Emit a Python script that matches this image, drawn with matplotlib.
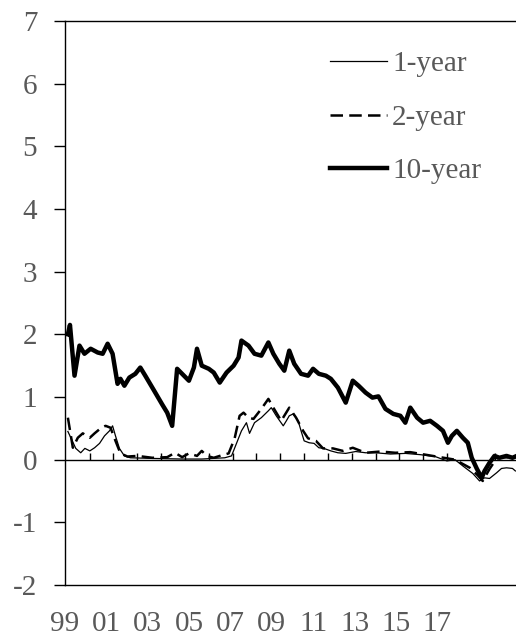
import numpy as np
import matplotlib
matplotlib.use("Agg")
import matplotlib.pyplot as plt

plt.rcParams['font.family'] = ['Liberation Serif', 'DejaVu Serif']
plt.rcParams['axes.unicode_minus'] = False

# decimal years and values
t_1y = [1999.14, 1999.52, 1999.76, 1999.96, 2000.20, 2000.43, 2000.67, 2000.91,
        2001.15, 2001.30, 2001.44, 2001.63, 2001.87, 2002.16, 2003.22, 2004.66,
        2005.61, 2006.72, 2007.05, 2007.29, 2007.53, 2007.77, 2007.92, 2008.16,
        2008.49, 2008.83, 2008.97, 2009.21, 2009.55, 2009.70, 2009.84, 2010.03,
        2010.27, 2010.41, 2010.56, 2010.80, 2011.04, 2011.27, 2011.51, 2011.85,
        2012.19, 2012.57, 2013.05, 2013.53, 2014.01, 2014.73, 2015.45, 2016.17,
        2016.89, 2017.46, 2017.85, 2018.23, 2018.71, 2019.04, 2019.28, 2019.52,
        2019.86, 2020.10, 2020.34, 2020.63, 2020.77]
v_1y = [0.45, 0.18, 0.11, 0.18, 0.14, 0.19, 0.26, 0.38,
        0.46, 0.54, 0.38, 0.18, 0.06, 0.03, 0.02, 0.01,
        0.01, 0.03, 0.06, 0.26, 0.46, 0.59, 0.42, 0.59,
        0.67, 0.78, 0.83, 0.70, 0.54, 0.62, 0.70, 0.73,
        0.62, 0.46, 0.30, 0.27, 0.26, 0.19, 0.18, 0.14,
        0.11, 0.10, 0.13, 0.11, 0.11, 0.09, 0.10, 0.08,
        0.05, -0.02, 0.00, -0.10, -0.22, -0.34, -0.29, -0.30,
        -0.21, -0.14, -0.13, -0.14, -0.18]

t_2y = [1999.14, 1999.38, 1999.62, 1999.86, 2000.20, 2000.43, 2000.72, 2000.96,
        2001.20, 2001.44, 2001.68, 2002.02, 2002.50, 2003.22, 2003.94, 2004.32,
        2004.66, 2004.99, 2005.38, 2005.61, 2005.85, 2006.19, 2006.48, 2006.91,
        2007.20, 2007.44, 2007.63, 2007.87, 2008.11, 2008.49, 2008.83, 2009.07,
        2009.45, 2009.84, 2010.17, 2010.51, 2010.75, 2011.13, 2011.47, 2011.95,
        2012.43, 2012.91, 2013.53, 2014.25, 2014.97, 2015.69, 2016.41, 2017.13,
        2017.85, 2018.57, 2018.95, 2019.19, 2019.52, 2019.86, 2020.24, 2020.77]
v_2y = [0.67, 0.19, 0.35, 0.42, 0.35, 0.42, 0.50, 0.54,
        0.51, 0.30, 0.10, 0.05, 0.06, 0.03, 0.04, 0.11,
        0.04, 0.10, 0.06, 0.14, 0.06, 0.03, 0.06, 0.10,
        0.34, 0.70, 0.75, 0.67, 0.65, 0.81, 0.97, 0.83,
        0.62, 0.83, 0.67, 0.46, 0.34, 0.30, 0.18, 0.18,
        0.14, 0.19, 0.11, 0.13, 0.11, 0.12, 0.08, 0.04,
        0.00, -0.13, -0.25, -0.34, -0.15, 0.02, 0.04, 0.03]

t_10y = [1999.14, 1999.24, 1999.46, 1999.70, 1999.94, 2000.24, 2000.58, 2000.82,
         2001.06, 2001.30, 2001.54, 2001.68, 2001.87, 2002.11, 2002.40, 2002.64,
         2002.88, 2003.31, 2003.70, 2003.94, 2004.18, 2004.42, 2004.75, 2004.99,
         2005.23, 2005.38, 2005.61, 2005.95, 2006.19, 2006.48, 2006.81, 2007.15,
         2007.39, 2007.53, 2007.87, 2008.16, 2008.49, 2008.83, 2009.07, 2009.36,
         2009.60, 2009.84, 2010.08, 2010.41, 2010.75, 2010.99, 2011.27, 2011.61,
         2011.85, 2012.19, 2012.57, 2012.91, 2013.19, 2013.53, 2013.86, 2014.15,
         2014.49, 2014.87, 2015.21, 2015.45, 2015.69, 2016.02, 2016.31, 2016.65,
         2016.98, 2017.27, 2017.51, 2017.70, 2017.94, 2018.23, 2018.47, 2018.66,
         2018.90, 2019.14, 2019.28, 2019.52, 2019.76, 2020.00, 2020.34, 2020.63,
         2020.77]
v_10y = [2.00, 2.15, 1.34, 1.82, 1.69, 1.77, 1.71, 1.69,
         1.85, 1.69, 1.21, 1.29, 1.18, 1.31, 1.37, 1.47,
         1.34, 1.10, 0.88, 0.75, 0.54, 1.45, 1.34, 1.26,
         1.47, 1.77, 1.50, 1.45, 1.39, 1.23, 1.39, 1.50,
         1.63, 1.90, 1.82, 1.69, 1.66, 1.87, 1.69, 1.53,
         1.42, 1.74, 1.53, 1.37, 1.34, 1.45, 1.37, 1.34,
         1.29, 1.15, 0.91, 1.26, 1.18, 1.07, 0.99, 1.01,
         0.81, 0.73, 0.70, 0.59, 0.83, 0.67, 0.59, 0.62,
         0.54, 0.46, 0.27, 0.38, 0.46, 0.35, 0.27, 0.03,
         -0.14, -0.29, -0.18, -0.05, 0.06, 0.03, 0.06, 0.03,
         0.05]

year_ticks = [1999, 2001, 2003, 2005, 2007, 2009, 2011, 2013, 2015, 2017]
year_labels = ["99", "01", "03", "05", "07", "09", "11", "13", "15", "17"]

grey = "#595959"

fig = plt.figure(figsize=(5.16, 6.36), dpi=100)
ax = fig.add_axes([65/516, 51/636, 451/516, 564/636])

ax.plot(t_1y, v_1y, color="black", lw=0.9, label="1-year")
ax.plot(t_2y, v_2y, color="black", lw=1.8, dashes=(5, 2.5), label="2-year")
ax.plot(t_10y, v_10y, color="black", lw=3.2, solid_joinstyle="round", label="10-year")

## zero line with small upward ticks
ax.axhline(0, color="black", lw=1.0, zorder=1)
zticks = np.arange(2000.19, 2020.8, 1.152)
ax.vlines(zticks, 0, 0.11, color="black", lw=1.0, zorder=1)

ax.set_xlim(1999.144, 2020.80)
ax.set_ylim(-2, 7)
ax.set_yticks(range(-2, 8))
ax.set_xticks(year_ticks)
ax.set_xticklabels(year_labels)

for s in ["left", "top", "bottom"]:
    ax.spines[s].set_linewidth(1.0)
    ax.spines[s].set_color("black")
ax.spines["right"].set_visible(False)

ax.tick_params(axis="y", direction="out", length=8, width=1.0, pad=12,
               labelsize=21, labelcolor=grey)
ax.tick_params(axis="x", length=0, pad=19, labelsize=21, labelcolor=grey)

leg = ax.legend(loc="upper left", bbox_to_anchor=(0.588, 0.947), frameon=False,
                fontsize=21, handlelength=1.95, handletextpad=0.17,
                labelspacing=0.93, borderpad=0, borderaxespad=0)
for txt in leg.get_texts():
    txt.set_color(grey)

fig.savefig("out.png", dpi=100)
